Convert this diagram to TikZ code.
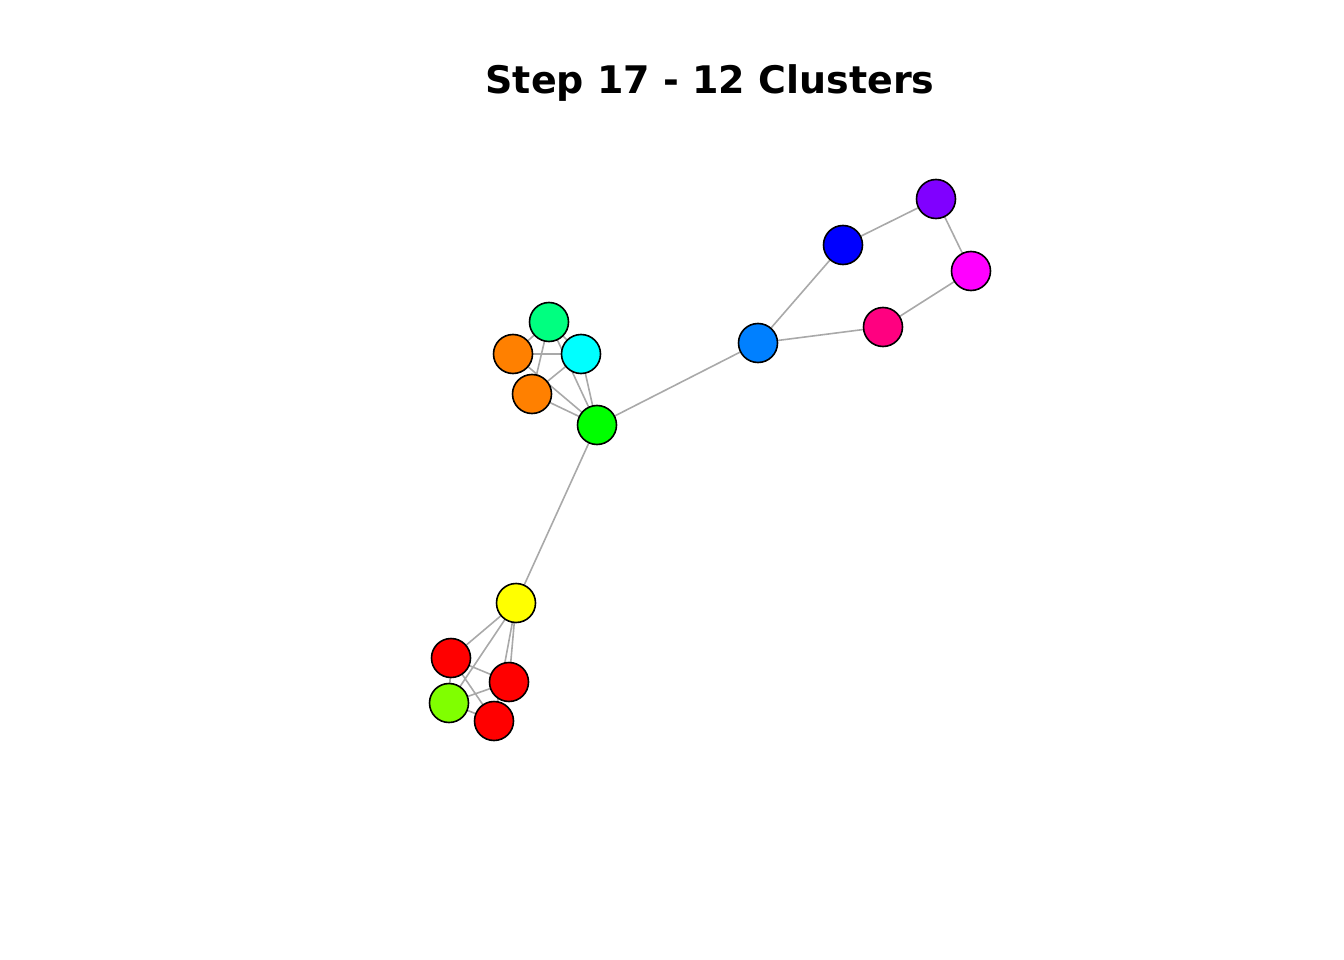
\documentclass[tikz,border=0pt]{standalone}
\usepackage{fontspec}
\setmainfont{DejaVu Sans}
\usetikzlibrary{backgrounds}
\definecolor{cR}{HTML}{FF0000}
\definecolor{cO}{HTML}{FF8000}
\definecolor{cY}{HTML}{FFFF00}
\definecolor{cL}{HTML}{80FF00}
\definecolor{cG}{HTML}{00FF00}
\definecolor{cSG}{HTML}{00FF80}
\definecolor{cC}{HTML}{00FFFF}
\definecolor{cAz}{HTML}{0080FF}
\definecolor{cB}{HTML}{0000FF}
\definecolor{cV}{HTML}{8000FF}
\definecolor{cM}{HTML}{FF00FF}
\definecolor{cP}{HTML}{FF0080}
\definecolor{edgegray}{HTML}{A9A9A9}
\begin{document}
\begin{tikzpicture}[x=1pt,y=-1pt,
  vert/.style={circle,draw=black,line width=1.6pt,minimum size=39pt,inner sep=0pt},
  edge/.style={draw=edgegray,line width=1.6pt}]
\useasboundingbox (0,0) rectangle (1344,960);
\node[font=\bfseries\fontsize{38}{44}\selectfont] (title) at (710,83) {Step 17 - 12 Clusters};
% top cluster
\node[vert,fill=cSG] (sg) at (549,322) {};
\node[vert,fill=cO] (o1) at (513,354) {};
\node[vert,fill=cC] (cy) at (581,354) {};
\node[vert,fill=cO] (o2) at (532,394) {};
\node[vert,fill=cG] (gr) at (597,425) {};
% right cluster
\node[vert,fill=cAz] (az) at (758,343) {};
\node[vert,fill=cB] (bl) at (843,245) {};
\node[vert,fill=cV] (vi) at (936,199) {};
\node[vert,fill=cM] (ma) at (971,271) {};
\node[vert,fill=cP] (pk) at (883,327) {};
% bottom cluster
\node[vert,fill=cY] (ye) at (516,603) {};
\node[vert,fill=cR] (r1) at (451,658) {};
\node[vert,fill=cR] (r2) at (509,682) {};
\node[vert,fill=cL] (li) at (449,703) {};
\node[vert,fill=cR] (r3) at (494,721) {};
\begin{scope}[on background layer]
\path[edge] (sg.center) -- (o1.center) (sg.center) -- (o2.center) (sg.center) -- (cy.center) (sg.center) -- (gr.center)
  (o1.center) -- (cy.center) (o1.center) -- (gr.center) (o2.center) -- (cy.center) (o2.center) -- (gr.center) (cy.center) -- (gr.center)
  (gr.center) -- (az.center) (gr.center) -- (ye.center)
  (az.center) -- (bl.center) (bl.center) -- (vi.center) (vi.center) -- (ma.center) (ma.center) -- (pk.center) (pk.center) -- (az.center)
  (ye.center) -- (r1.center) (ye.center) -- (li.center) (ye.center) -- (r2.center) (ye.center) -- (r3.center)
  (r1.center) -- (r2.center) (r1.center) -- (r3.center) (r1.center) -- (li.center) (li.center) -- (r2.center) (li.center) -- (r3.center);
\end{scope}
\end{tikzpicture}
\end{document}
